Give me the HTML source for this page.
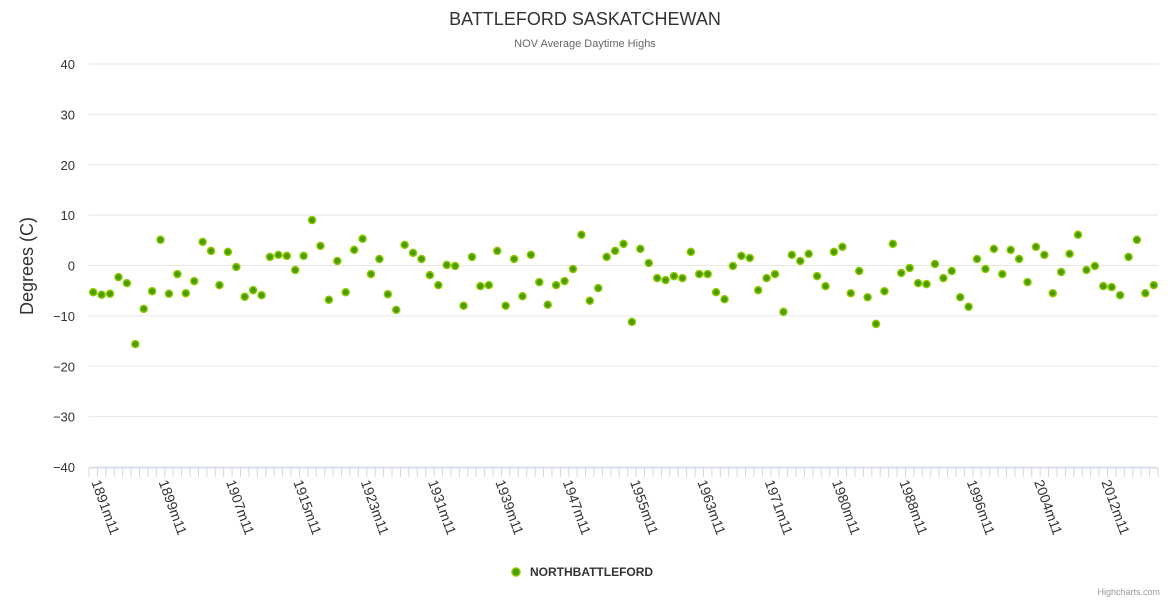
<!DOCTYPE html>
<html><head><meta charset="utf-8"><style>
body{margin:0;background:#fff;font-family:"Liberation Sans",sans-serif;}
svg text{font-family:"Liberation Sans",sans-serif;}
</style></head><body>
<svg id="chart" width="1170" height="600" xmlns="http://www.w3.org/2000/svg">
<text x="585" y="25" text-anchor="middle" font-size="18" fill="#333">BATTLEFORD SASKATCHEWAN</text>
<text x="585" y="47" text-anchor="middle" font-size="11" fill="#666">NOV Average Daytime Highs</text>
<text transform="translate(33,266) rotate(-90)" text-anchor="middle" font-size="18" fill="#333">Degrees (C)</text>
<g id="grid"></g><g id="xaxis"></g><g id="points"></g>
<g>
<circle cx="516" cy="572" r="4" fill="#4a9a00" stroke="#8cc800" stroke-width="1.5"/>
<text x="530" y="576" font-size="12" font-weight="bold" fill="#333">NORTHBATTLEFORD</text>
</g>
<text x="1160" y="595" text-anchor="end" font-size="9" fill="#999">Highcharts.com</text>
</svg>
<script>
const yTicks=[40,30,20,10,0,-10,-20,-30,-40];
const values=[-5.3,-5.8,-5.6,-2.3,-3.5,-15.6,-8.6,-5.1,5.1,-5.6,-1.7,-5.5,-3.1,4.7,2.9,-3.9,2.7,-0.3,-6.2,-4.9,-5.9,1.7,2.1,1.9,-0.9,1.9,9.0,3.9,-6.8,0.9,-5.3,3.1,5.3,-1.7,1.3,-5.7,-8.8,4.1,2.5,1.3,-1.9,-3.9,0.1,-0.1,-8.0,1.7,-4.1,-3.9,2.9,-8.0,1.3,-6.1,2.1,-3.3,-7.8,-3.9,-3.1,-0.7,6.1,-7.0,-4.5,1.7,2.9,4.3,-11.2,3.3,0.5,-2.5,-2.9,-2.1,-2.5,2.7,-1.7,-1.7,-5.3,-6.7,-0.1,1.9,1.5,-4.9,-2.5,-1.7,-9.2,2.1,0.9,2.3,-2.1,-4.1,2.7,3.7,-5.5,-1.1,-6.3,-11.6,-5.1,4.3,-1.5,-0.5,-3.5,-3.7,0.3,-2.5,-1.1,-6.3,-8.2,1.3,-0.7,3.3,-1.7,3.1,1.3,-3.3,3.7,2.1,-5.5,-1.3,2.3,6.1,-0.9,-0.1,-4.1,-4.3,-5.9,1.7,5.1,-5.5,-3.9];
const years=[];
for(let y=1891;years.length<values.length;y++){if(y!==1976)years.push(y);}
const categories=years.map(y=>y+'m11');
const NS='http://www.w3.org/2000/svg';
const L=89,R=1158,T=64,B=467;
const bw=(R-L)/categories.length;
function xS(i){return L+bw*(i+0.5);}
function yS(v){return T+(40-v)/80*(B-T);}
function mk(t,a,p){const e=document.createElementNS(NS,t);for(const k in a)e.setAttribute(k,a[k]);p.appendChild(e);return e;}
const grid=document.getElementById('grid');
yTicks.forEach(v=>{
  const ln=mk('line',{x1:L,x2:R,y1:yS(v),y2:yS(v),stroke:'#e6e6e6','stroke-width':1},grid);
  
  
  const t=mk('text',{x:75,y:yS(v)+5,'text-anchor':'end','font-size':13,fill:'#333'},grid);
  t.textContent=(v<0?'−'+(-v):v);
  
  
});
const xa=document.getElementById('xaxis');
const axl=mk('line',{x1:L,x2:R,y1:B+1,y2:B+1,stroke:'#ccd6eb','stroke-width':1},xa);


for(let i=0;i<=categories.length;i++){
  const x=L+bw*i;
  const tk=mk('line',{x1:x,x2:x,y1:B+1,y2:B+10,stroke:'#ccd6eb','stroke-width':1},xa);
  
  
}
categories.forEach((c,i)=>{
  if(i%8!==0)return;
  const x=xS(i)-2,y=B+15;
  const t=mk('text',{x:x,y:y,'font-size':14,fill:'#333',transform:`rotate(70 ${x} ${y})`},xa);
  t.textContent=c;
  
  
});
const pg=document.getElementById('points');
values.forEach((v,i)=>{
  const c=mk('circle',{cx:xS(i),cy:yS(v),r:3.5,fill:'#4a9a00',stroke:'#8cc800','stroke-width':1.5},pg);
  
  
});
</script>
</body></html>
